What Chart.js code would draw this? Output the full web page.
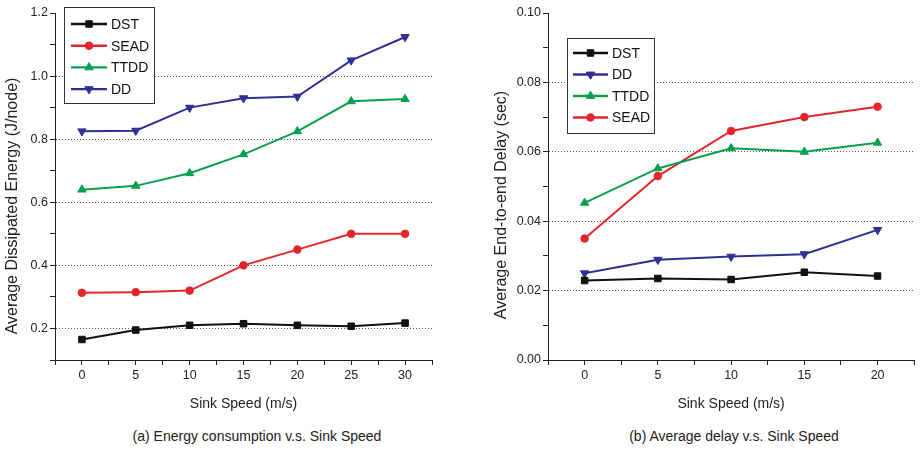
<!DOCTYPE html>
<html>
<head>
<meta charset="utf-8">
<script src="https://cdn.jsdelivr.net/npm/chart.js@4/dist/chart.umd.min.js"></script>
<style>
  body { margin: 0; background: #fff; width: 920px; height: 452px; position: relative; overflow: hidden;
         font-family: "Liberation Sans", Arial, sans-serif; }
  .wrap { position: absolute; top: 0; height: 420px; }
  #wrap-a { left: 0; width: 440px; }
  #wrap-b { left: 485px; width: 435px; }
  .caption { position: absolute; top: 428px; width: 400px; font-size: 14px; color: #222; text-align: center; }
</style>
</head>
<body>
<div class="wrap" id="wrap-a"><canvas id="chart-a"></canvas></div>
<div class="wrap" id="wrap-b"><canvas id="chart-b"></canvas></div>
<div class="caption" style="left:57px">(a) Energy consumption v.s. Sink Speed</div>
<div class="caption" style="left:534px">(b) Average delay v.s. Sink Speed</div>
<script>
// (a) energy per node, J
const speedsA = [0, 5, 10, 15, 20, 25, 30];
const energyDST = [0.165, 0.195, 0.21, 0.215, 0.21, 0.207, 0.217];
const energySEAD = [0.313, 0.315, 0.32, 0.40, 0.45, 0.50, 0.50];
const energyTTDD = [0.64, 0.652, 0.692, 0.752, 0.825, 0.92, 0.927];
const energyDD = [0.825, 0.827, 0.90, 0.93, 0.935, 1.05, 1.124];
const energyTickLabels = ['0.2', '0.4', '0.6', '0.8', '1.0', '1.2'];
const energyGridLines = ['0.2', '0.4', '0.6', '0.8', '1.0'];
const speedTickLabelsA = ['0', '5', '10', '15', '20', '25', '30'];

// (b) end-to-end delay, sec
const speedsB = [0, 5, 10, 15, 20];
const delayDST = [0.0229, 0.0235, 0.0232, 0.0253, 0.0242];
const delayDD = [0.025, 0.0289, 0.0298, 0.0305, 0.0375];
const delayTTDD = [0.0453, 0.0552, 0.061, 0.060, 0.0626];
const delaySEAD = [0.035, 0.053, 0.066, 0.070, 0.073];
const delayTickLabels = ['0.00', '0.02', '0.04', '0.06', '0.08', '0.10'];
const delayGridLines = ['0.02', '0.04', '0.06', '0.08'];
const speedTickLabelsB = ['0', '5', '10', '15', '20'];

const STYLE = {
  DST:  { color: '#111111', pointStyle: 'rect', radius: 4.6, rotation: 0 },
  SEAD: { color: '#e3262b', pointStyle: 'circle', radius: 3.8, rotation: 0 },
  TTDD: { color: '#0a9f4f', pointStyle: 'triangle', radius: 4.8, rotation: 0 },
  DD:   { color: '#2e3192', pointStyle: 'triangle', radius: 4.8, rotation: 180 }
};

const FONT = '"Liberation Sans", Arial, sans-serif';
Chart.defaults.font.family = FONT;
Chart.defaults.color = '#222';

function series(name, xs, ys) {
  const s = STYLE[name];
  return {
    label: name,
    data: xs.map((x, i) => ({ x: x, y: ys[i] })),
    borderColor: s.color,
    backgroundColor: s.color,
    borderWidth: 2,
    pointStyle: s.pointStyle,
    pointRadius: s.radius,
    pointRotation: s.rotation,
    pointBorderWidth: 1,
    tension: 0
  };
}

// framed legend with line + marker samples, as in the paper figures
const boxLegend = {
  id: 'boxLegend',
  afterDraw(chart, args, o) {
    const ctx = chart.ctx;
    ctx.save();
    ctx.fillStyle = '#fff';
    ctx.fillRect(o.x, o.y, o.w, o.h);
    ctx.strokeStyle = '#333';
    ctx.lineWidth = 1;
    ctx.strokeRect(o.x + 0.5, o.y + 0.5, o.w, o.h);
    chart.data.datasets.forEach((ds, i) => {
      const y = o.y + o.firstRow + i * o.rowGap;
      const x0 = o.x + o.lineX0, x1 = o.x + o.lineX1;
      ctx.strokeStyle = ds.borderColor;
      ctx.fillStyle = ds.borderColor;
      ctx.lineWidth = 2.4;
      ctx.beginPath();
      ctx.moveTo(x0, y);
      ctx.lineTo(x1, y);
      ctx.stroke();
      ctx.lineWidth = 1;
      Chart.helpers.drawPoint(ctx, {
        pointStyle: ds.pointStyle, radius: ds.pointRadius, rotation: ds.pointRotation, borderWidth: 1
      }, (x0 + x1) / 2, y);
      ctx.fillStyle = '#111';
      ctx.font = '14px ' + FONT;
      ctx.textBaseline = 'middle';
      ctx.fillText(ds.label, x1 + 4, y + 1);
    });
    ctx.restore();
  }
};

// rotated y-axis title; the originals sit a bit below the plot's middle
const sideTitle = {
  id: 'sideTitle',
  afterDraw(chart, args, o) {
    const ctx = chart.ctx;
    ctx.save();
    ctx.translate(o.x, o.y);
    ctx.rotate(-Math.PI / 2);
    ctx.fillStyle = '#222';
    ctx.font = o.size + 'px ' + FONT;
    ctx.textAlign = 'center';
    ctx.textBaseline = 'middle';
    ctx.fillText(o.text, 0, 0);
    ctx.restore();
  }
};

function makeChart(id, datasets, cfg) {
  return new Chart(document.getElementById(id), {
    type: 'line',
    data: { datasets: datasets },
    plugins: [boxLegend, sideTitle],
    options: {
      responsive: true,
      maintainAspectRatio: false,
      animation: false,
      layout: { padding: { top: 13, right: cfg.padRight, bottom: 0, left: 0 } },
      plugins: {
        legend: { display: false },
        tooltip: { enabled: false },
        boxLegend: cfg.legend,
        sideTitle: cfg.yTitle
      },
      scales: {
        x: {
          type: 'linear',
          min: -2.5,
          max: cfg.xMax,
          afterFit: (s) => { s.height = 60; },
          border: { color: '#222', width: 1 },
          grid: { color: 'transparent', tickColor: '#222', tickLength: 5 },
          ticks: {
            stepSize: 2.5, autoSkip: false, maxRotation: 0, padding: 3,
            font: { size: 12.5 }, color: '#222',
            callback: (v) => cfg.xLabels.includes(String(v)) ? String(v) : ''
          },
          title: { display: true, text: 'Sink Speed (m/s)', font: { size: 14 }, color: '#222', padding: { top: 0, bottom: 7 } }
        },
        y: {
          type: 'linear',
          min: cfg.yMin,
          max: cfg.yMax,
          afterFit: (s) => { s.width = cfg.yWidth; },
          border: { color: '#222', width: 1, dash: [1, 2] },
          grid: {
            color: (c) => cfg.grid.includes(c.tick.value.toFixed(cfg.digits)) ? '#555' : 'transparent',
            tickColor: '#222',
            tickBorderDash: [],
            tickLength: 5
          },
          ticks: {
            stepSize: cfg.yStep, autoSkip: false, padding: 2,
            font: { size: 12.5 }, color: '#222',
            callback: (v) => {
              const s = v.toFixed(cfg.digits);
              return cfg.yLabels.includes(s) ? s : '';
            }
          }
        }
      }
    }
  });
}

makeChart('chart-a', [
  series('DST', speedsA, energyDST),
  series('SEAD', speedsA, energySEAD),
  series('TTDD', speedsA, energyTTDD),
  series('DD', speedsA, energyDD)
], {
  xMax: 32.5, xLabels: speedTickLabelsA,
  yMin: 0.1, yMax: 1.2, yStep: 0.1, digits: 1,
  yLabels: energyTickLabels, grid: energyGridLines,
  yWidth: 55, padRight: 8,
  yTitle: { text: 'Average Dissipated Energy (J/node)', x: 13, y: 206, size: 16 },
  legend: { x: 64, y: 7, w: 90, h: 96, firstRow: 17, rowGap: 21.7, lineX0: 7, lineX1: 43 }
});

makeChart('chart-b', [
  series('DST', speedsB, delayDST),
  series('DD', speedsB, delayDD),
  series('TTDD', speedsB, delayTTDD),
  series('SEAD', speedsB, delaySEAD)
], {
  xMax: 22.5, xLabels: speedTickLabelsB,
  yMin: 0, yMax: 0.1, yStep: 0.01, digits: 2,
  yLabels: delayTickLabels, grid: delayGridLines,
  yWidth: 63, padRight: 1,
  yTitle: { text: 'Average End-to-end Delay (sec)', x: 17, y: 205, size: 16 },
  legend: { x: 82, y: 38, w: 87, h: 95, firstRow: 15, rowGap: 21.5, lineX0: 6, lineX1: 41 }
});
</script>
</body>
</html>
